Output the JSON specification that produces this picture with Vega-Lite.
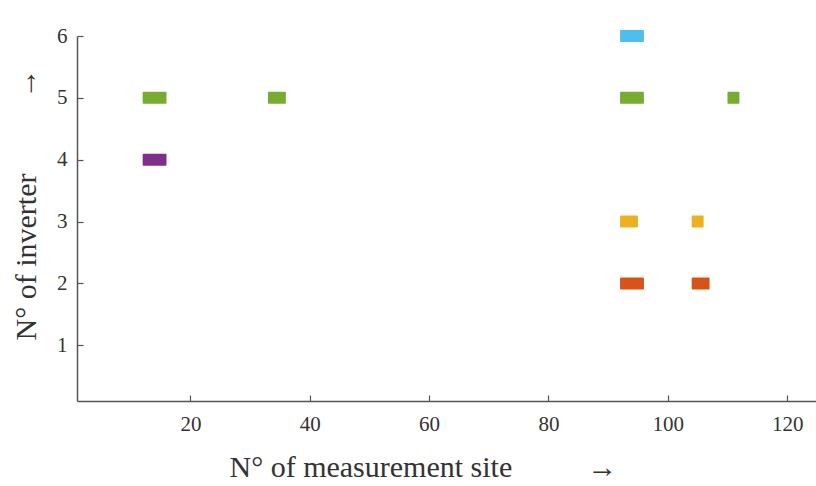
{
  "$schema": "https://vega.github.io/schema/vega-lite/v6.json",
  "autosize": "none",
  "width": 740,
  "height": 365,
  "padding": {"left": 77, "top": 36, "right": 0, "bottom": 85},
  "background": "white",
  "config": {
    "view": {"stroke": null},
    "scale": {"continuousPadding": 0},
    "axis": {
      "grid": false,
      "domainColor": "#555555",
      "domainWidth": 1.5,
      "tickColor": "#555555",
      "tickWidth": 1.2,
      "tickSize": -6,
      "labelFont": "Liberation Serif",
      "labelFontSize": 21,
      "labelColor": "#333333",
      "titleFont": "Liberation Serif",
      "titleFontSize": 30,
      "titleFontWeight": "normal",
      "titleColor": "#333333"
    }
  },
  "data": {
    "values": [
      {"inverter": 6, "start": 92, "end": 96, "group": "6"},
      {"inverter": 5, "start": 12, "end": 16, "group": "5"},
      {"inverter": 5, "start": 33, "end": 36, "group": "5"},
      {"inverter": 5, "start": 92, "end": 96, "group": "5"},
      {"inverter": 5, "start": 110, "end": 112, "group": "5"},
      {"inverter": 4, "start": 12, "end": 16, "group": "4"},
      {"inverter": 3, "start": 92, "end": 95, "group": "3"},
      {"inverter": 3, "start": 104, "end": 106, "group": "3"},
      {"inverter": 2, "start": 92, "end": 96, "group": "2"},
      {"inverter": 2, "start": 104, "end": 107, "group": "2"}
    ]
  },
  "mark": {"type": "bar", "size": 12, "cornerRadius": 1, "clip": false},
  "encoding": {
    "x": {
      "field": "start",
      "type": "quantitative",
      "scale": {"domain": [1, 125], "nice": false, "zero": false, "padding": 0},
      "axis": {
        "values": [20, 40, 60, 80, 100, 120],
        "labelPadding": 18,
        "title": "N° of measurement site\u00a0\u00a0\u00a0\u00a0\u00a0\u00a0\u00a0\u00a0\u00a0\u00a0→",
        "titleAlign": "left",
        "titleAnchor": null,
        "titleX": 152,
        "titleY": 75,
        "titleBaseline": "alphabetic"
      }
    },
    "x2": {"field": "end"},
    "y": {
      "field": "inverter",
      "type": "quantitative",
      "scale": {"domain": [0.1, 6], "nice": false, "zero": false, "padding": 0},
      "axis": {
        "values": [1, 2, 3, 4, 5, 6],
        "labelPadding": 16,
        "title": "N° of inverter\u00a0\u00a0\u00a0\u00a0\u00a0\u00a0\u00a0\u00a0\u00a0\u00a0→",
        "titleAngle": 270,
        "titleAlign": "left",
        "titleAnchor": null,
        "titleX": -42,
        "titleY": 304,
        "titleBaseline": "alphabetic"
      }
    },
    "color": {
      "field": "group",
      "type": "nominal",
      "scale": {
        "domain": ["6", "5", "4", "3", "2"],
        "range": ["#4DBEEE", "#77AC30", "#7E2F8E", "#EDB120", "#D95319"]
      },
      "legend": null
    }
  }
}
